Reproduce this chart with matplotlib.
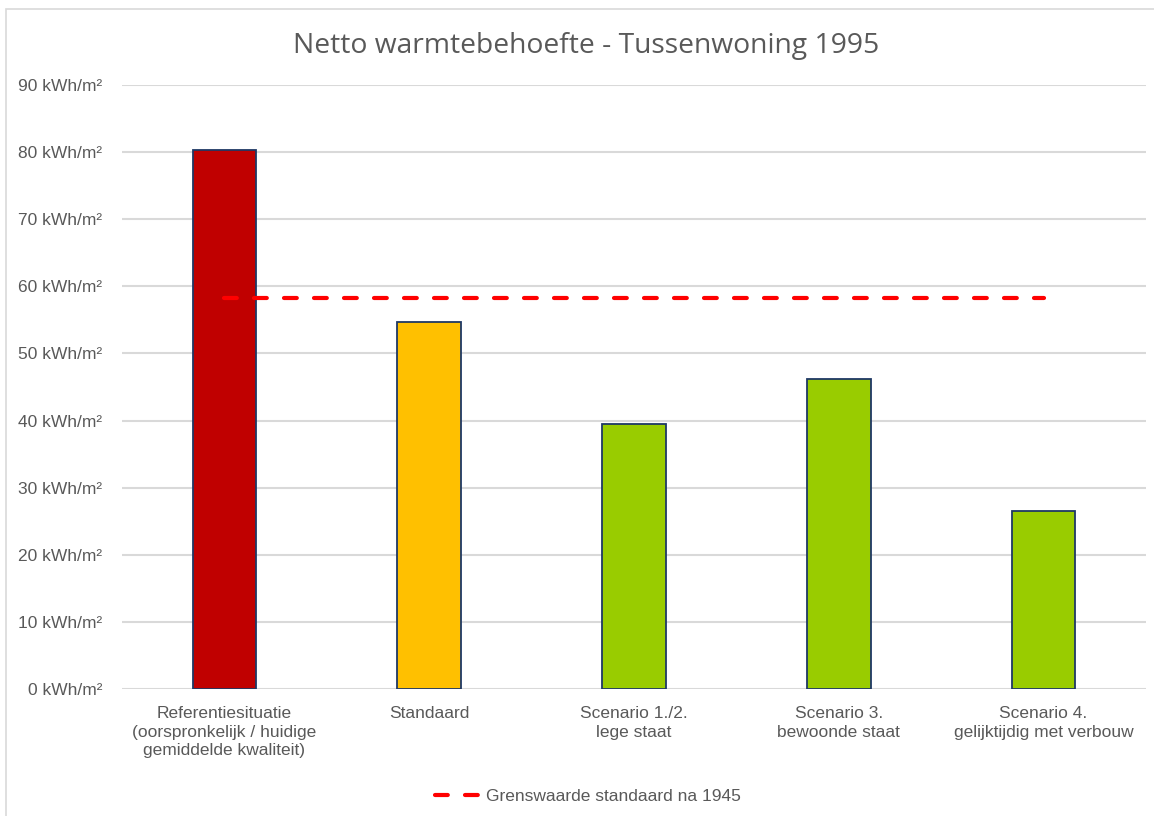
import matplotlib
matplotlib.use("Agg")
import matplotlib.pyplot as plt
from matplotlib.patches import Rectangle

categories = [
    "Referentiesituatie\n(oorspronkelijk / huidige\ngemiddelde kwaliteit)",
    "Standaard",
    "Scenario 1./2.\nlege staat",
    "Scenario 3.\nbewoonde staat",
    "Scenario 4.\ngelijktijdig met verbouw",
]
values = [80.3, 54.7, 39.5, 46.2, 26.5]
bar_colors = ["#C00000", "#FFC000", "#99CC00", "#99CC00", "#99CC00"]
limit_value = 58.3
limit_label = "Grenswaarde standaard na 1945"
title = "Netto warmtebehoefte - Tussenwoning 1995"
yticks = list(range(0, 100, 10))
ytick_labels = [f"{v} kWh/m²" for v in yticks]

W, H = 1154, 816
fig = plt.figure(figsize=(W / 100, H / 100), dpi=100)
fig.patch.set_facecolor("white")

# outer chart frame
fig.patches.append(Rectangle((6 / W, -0.01), 1.1, (H - 9) / H + 0.01,
                             transform=fig.transFigure, fill=False,
                             edgecolor="#D9D9D9", linewidth=1.2))

left, right, bottom, top = 122 / W, 1146 / W, 1 - 689 / H, 1 - 85 / H
ax = fig.add_axes([left, bottom, right - left, top - bottom])

x = list(range(len(categories)))
ax.bar(x, values, width=0.31, color=bar_colors, edgecolor="#1F3864",
       linewidth=1.3, zorder=3)
ax.plot([0, len(categories) - 1], [limit_value, limit_value],
        color="#FF0000", linewidth=3, linestyle=(0, (3.07, 4.13)),
        dash_capstyle="round", zorder=4, label=limit_label)

ax.set_xlim(-0.5, len(categories) - 0.5)
ax.set_ylim(0, 90)
ax.set_yticks(yticks)
ax.set_yticklabels(ytick_labels)
ax.set_xticks(x)
ax.set_xticklabels(categories)
ax.grid(axis="y", color="#D9D9D9", linewidth=1.5, zorder=0)
ax.set_axisbelow(True)
for s in ax.spines.values():
    s.set_visible(False)
ax.tick_params(axis="both", length=0, colors="#595959", labelsize=12.5)
ax.tick_params(axis="y", pad=14)
ax.tick_params(axis="x", pad=12)
for lab in ax.get_xticklabels() + ax.get_yticklabels():
    lab.set_fontfamily("Liberation Sans")
    lab.set_color("#595959")
for lab in ax.get_xticklabels():
    lab.set_linespacing(1.32)

fig.text(586 / W, 1 - 46 / H, title, ha="center", va="center",
         fontsize=20.3, color="#595959", fontfamily="Open Sans")

leg = fig.legend(loc="center", bbox_to_anchor=(588 / W, 1 - 796 / H),
                 frameon=False, handlelength=2.6, handletextpad=0.35,
                 prop={"family": "Liberation Sans", "size": 12.5})
for t in leg.get_texts():
    t.set_color("#595959")

fig.savefig("out.png", dpi=100, facecolor="white")
